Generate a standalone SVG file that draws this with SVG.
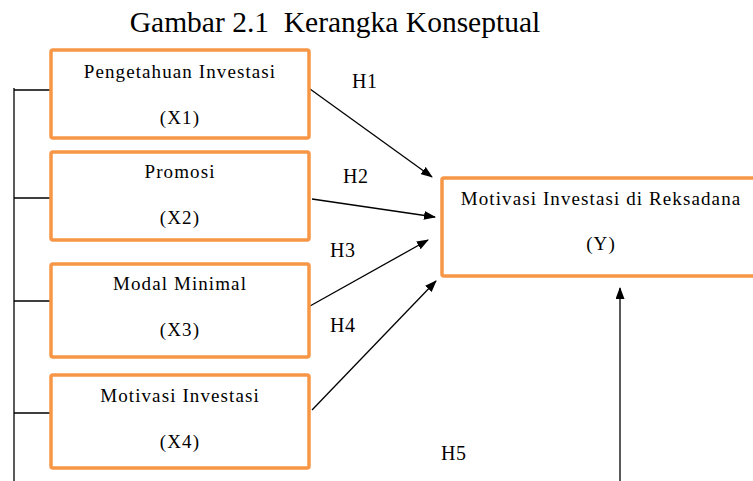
<svg xmlns="http://www.w3.org/2000/svg" width="753" height="481" viewBox="0 0 753 481">
<defs>
<style>
.box{fill:#fff;stroke:#F79646;stroke-width:3.5}
.t{font-family:'Liberation Serif','Times New Roman',serif;font-size:19px;letter-spacing:1.1px;fill:#000;text-anchor:middle}
.h{font-family:'Liberation Serif','Times New Roman',serif;font-size:20px;letter-spacing:0.6px;fill:#000}
.ln{stroke:#000;stroke-width:1.3;fill:none}
</style>
<marker id="ah" markerWidth="12" markerHeight="9" refX="11" refY="4.5" orient="auto" markerUnits="userSpaceOnUse">
<path d="M0,0 L12,4.5 L0,9 z" fill="#000"/>
</marker>
</defs>
<rect width="753" height="481" fill="#fff"/>
<text x="335" y="32" font-family="'Liberation Serif','Times New Roman',serif" font-size="29.5" text-anchor="middle" xml:space="preserve">Gambar 2.1  Kerangka Konseptual</text>
<g id="connectors">
<path class="ln" d="M14,88 V481"/>
<path class="ln" d="M14,90 H50 M14,198 H50 M14,301 H50 M14,413 H50"/>
<path class="ln" d="M310,89 L432,177" marker-end="url(#ah)"/>
<path class="ln" d="M312,199 L435,217" marker-end="url(#ah)"/>
<path class="ln" d="M310,306 L428,240" marker-end="url(#ah)"/>
<path class="ln" d="M312,410 L436,281" marker-end="url(#ah)"/>
<path class="ln" d="M620,481 V288" marker-end="url(#ah)"/>
</g>
<g id="labels">
<text class="h" x="352" y="88">H1</text>
<text class="h" x="343" y="183">H2</text>
<text class="h" x="330" y="257">H3</text>
<text class="h" x="330" y="332">H4</text>
<text class="h" x="441" y="460">H5</text>
</g>
<g id="x1">
<rect class="box" x="51" y="50" width="258" height="88" rx="2"/>
<text class="t" x="180" y="78">Pengetahuan Investasi</text>
<text class="t" x="180" y="124">(X1)</text>
</g>
<g id="x2">
<rect class="box" x="51" y="152" width="258" height="88" rx="2"/>
<text class="t" x="180" y="178">Promosi</text>
<text class="t" x="180" y="224">(X2)</text>
</g>
<g id="x3">
<rect class="box" x="51" y="264" width="258" height="93" rx="2"/>
<text class="t" x="180" y="290">Modal Minimal</text>
<text class="t" x="180" y="336">(X3)</text>
</g>
<g id="x4">
<rect class="box" x="51" y="375" width="258" height="93" rx="2"/>
<text class="t" x="180" y="402">Motivasi Investasi</text>
<text class="t" x="180" y="448">(X4)</text>
</g>
<g id="y">
<rect class="box" x="442" y="178" width="320" height="98" rx="2"/>
<text class="t" x="601" y="205">Motivasi Investasi di Reksadana</text>
<text class="t" x="601" y="250">(Y)</text>
</g>
</svg>
